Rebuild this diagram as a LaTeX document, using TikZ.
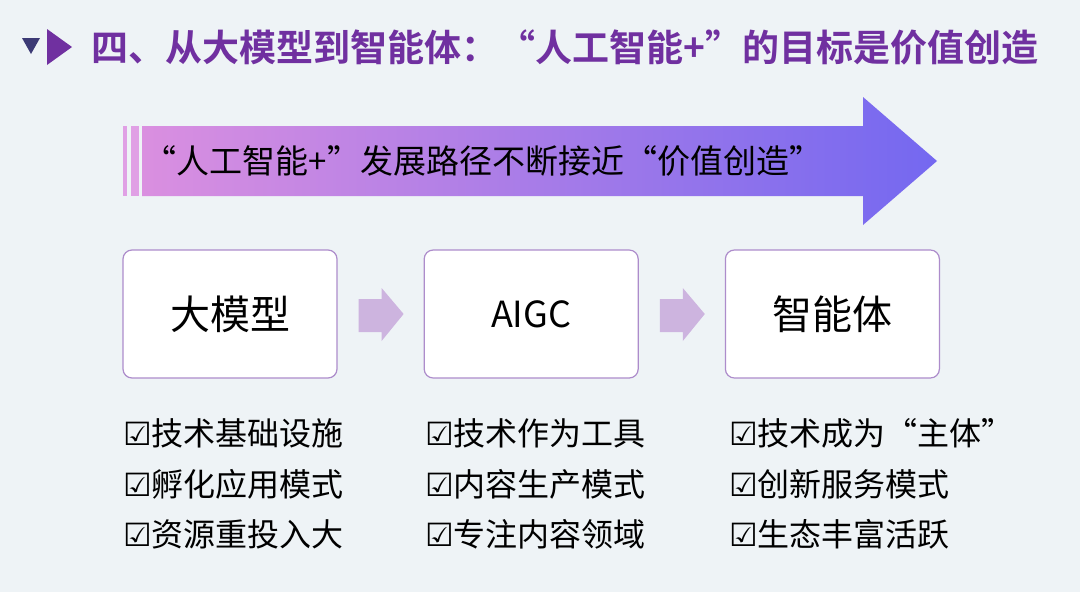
\documentclass[tikz,border=0pt]{standalone}
\usepackage{fontspec}
\setmainfont{Noto Sans CJK SC}
\newfontfamily\cjk{Noto Sans CJK SC}
\newfontfamily\cjkbold{Noto Sans CJK SC Bold}
\newfontfamily\symfont{DejaVu Sans}
\newcommand{\chkbox}{{\symfont ☑}}
\usetikzlibrary{positioning}

\definecolor{bgcol}{HTML}{EEF3F6}
\definecolor{titlecol}{HTML}{7030A0}
\definecolor{navycol}{HTML}{3C3A75}
\definecolor{pinkcol}{HTML}{DA8FE0}
\definecolor{violetcol}{HTML}{7468F0}
\definecolor{boxline}{HTML}{AD8CCB}
\definecolor{smallarrow}{HTML}{CDB4DF}

\begin{document}
\begin{tikzpicture}[x=1pt, y=-1pt,
    stagebox/.style={draw=boxline, line width=1.2pt, fill=white, rounded corners=9pt,
        minimum width=214pt, minimum height=128pt, inner sep=0pt},
    itemtext/.style={anchor=west, inner sep=0pt, font=\cjk\fontsize{32}{32}\selectfont}]
    % Hintergrund
    \fill[bgcol] (0,0) rectangle (1080,592);
    \useasboundingbox (0,0) rectangle (1080,592);

    % Titel
    \fill[navycol] (22,38) -- (40,38) -- (31,54) -- cycle;
    \fill[titlecol] (47,29) -- (72,47) -- (47,65) -- cycle;
    \node[anchor=west, inner sep=0pt, text=titlecol] (title) at (91,47)
        {\cjkbold\fontsize{37}{37}\selectfont 四、从大模型到智能体：“人工智能+”的目标是价值创造};

    % grosser Pfeil
    \fill[pinkcol!85!white] (123,126) rectangle (127,196);
    \fill[pinkcol!85!white] (131,126) rectangle (139,196);
    \shade[left color=pinkcol, right color=violetcol]
        (142,126) -- (863,126) -- (863,97) -- (937,161) -- (863,225) -- (863,196) -- (142,196) -- cycle;
    \node[inner sep=0pt] (path) at (483,161)
        {\cjk\fontsize{33}{33}\selectfont “人工智能+”发展路径不断接近“价值创造”};

    % Stufen
    \node[stagebox] (llm) at (230,314) {\cjk\fontsize{40}{40}\selectfont 大模型};
    \node[stagebox, right=86pt of llm] (aigc) {\cjk\fontsize{36}{36}\selectfont AIGC};
    \node[stagebox, right=86pt of aigc] (agent) {\cjk\fontsize{40}{40}\selectfont 智能体};

    % kleine Pfeile
    \foreach \a/\b in {llm/aigc, aigc/agent} {
        \path (\a.east) -- (\b.west) coordinate[pos=0.5] (m);
        \fill[smallarrow] ([xshift=-22pt, yshift=15pt]m) -- ([xshift=1pt, yshift=15pt]m)
            -- ([xshift=1pt, yshift=26pt]m) -- ([xshift=23pt]m) -- ([xshift=1pt, yshift=-27pt]m)
            -- ([xshift=1pt, yshift=-18pt]m) -- ([xshift=-22pt, yshift=-18pt]m) -- cycle;
    }

    % Listen
    \node[itemtext] (l1) at (123,433) {\chkbox 技术基础设施};
    \node[itemtext] (l2) at (123,484) {\chkbox 孵化应用模式};
    \node[itemtext] (l3) at (123,534) {\chkbox 资源重投入大};
    \node[itemtext] (a1) at (425,433) {\chkbox 技术作为工具};
    \node[itemtext] (a2) at (425,484) {\chkbox 内容生产模式};
    \node[itemtext] (a3) at (425,534) {\chkbox 专注内容领域};
    \node[itemtext] (g1) at (729,433) {\chkbox 技术成为“主体”};
    \node[itemtext] (g2) at (729,484) {\chkbox 创新服务模式};
    \node[itemtext] (g3) at (729,534) {\chkbox 生态丰富活跃};
\end{tikzpicture}
\end{document}
